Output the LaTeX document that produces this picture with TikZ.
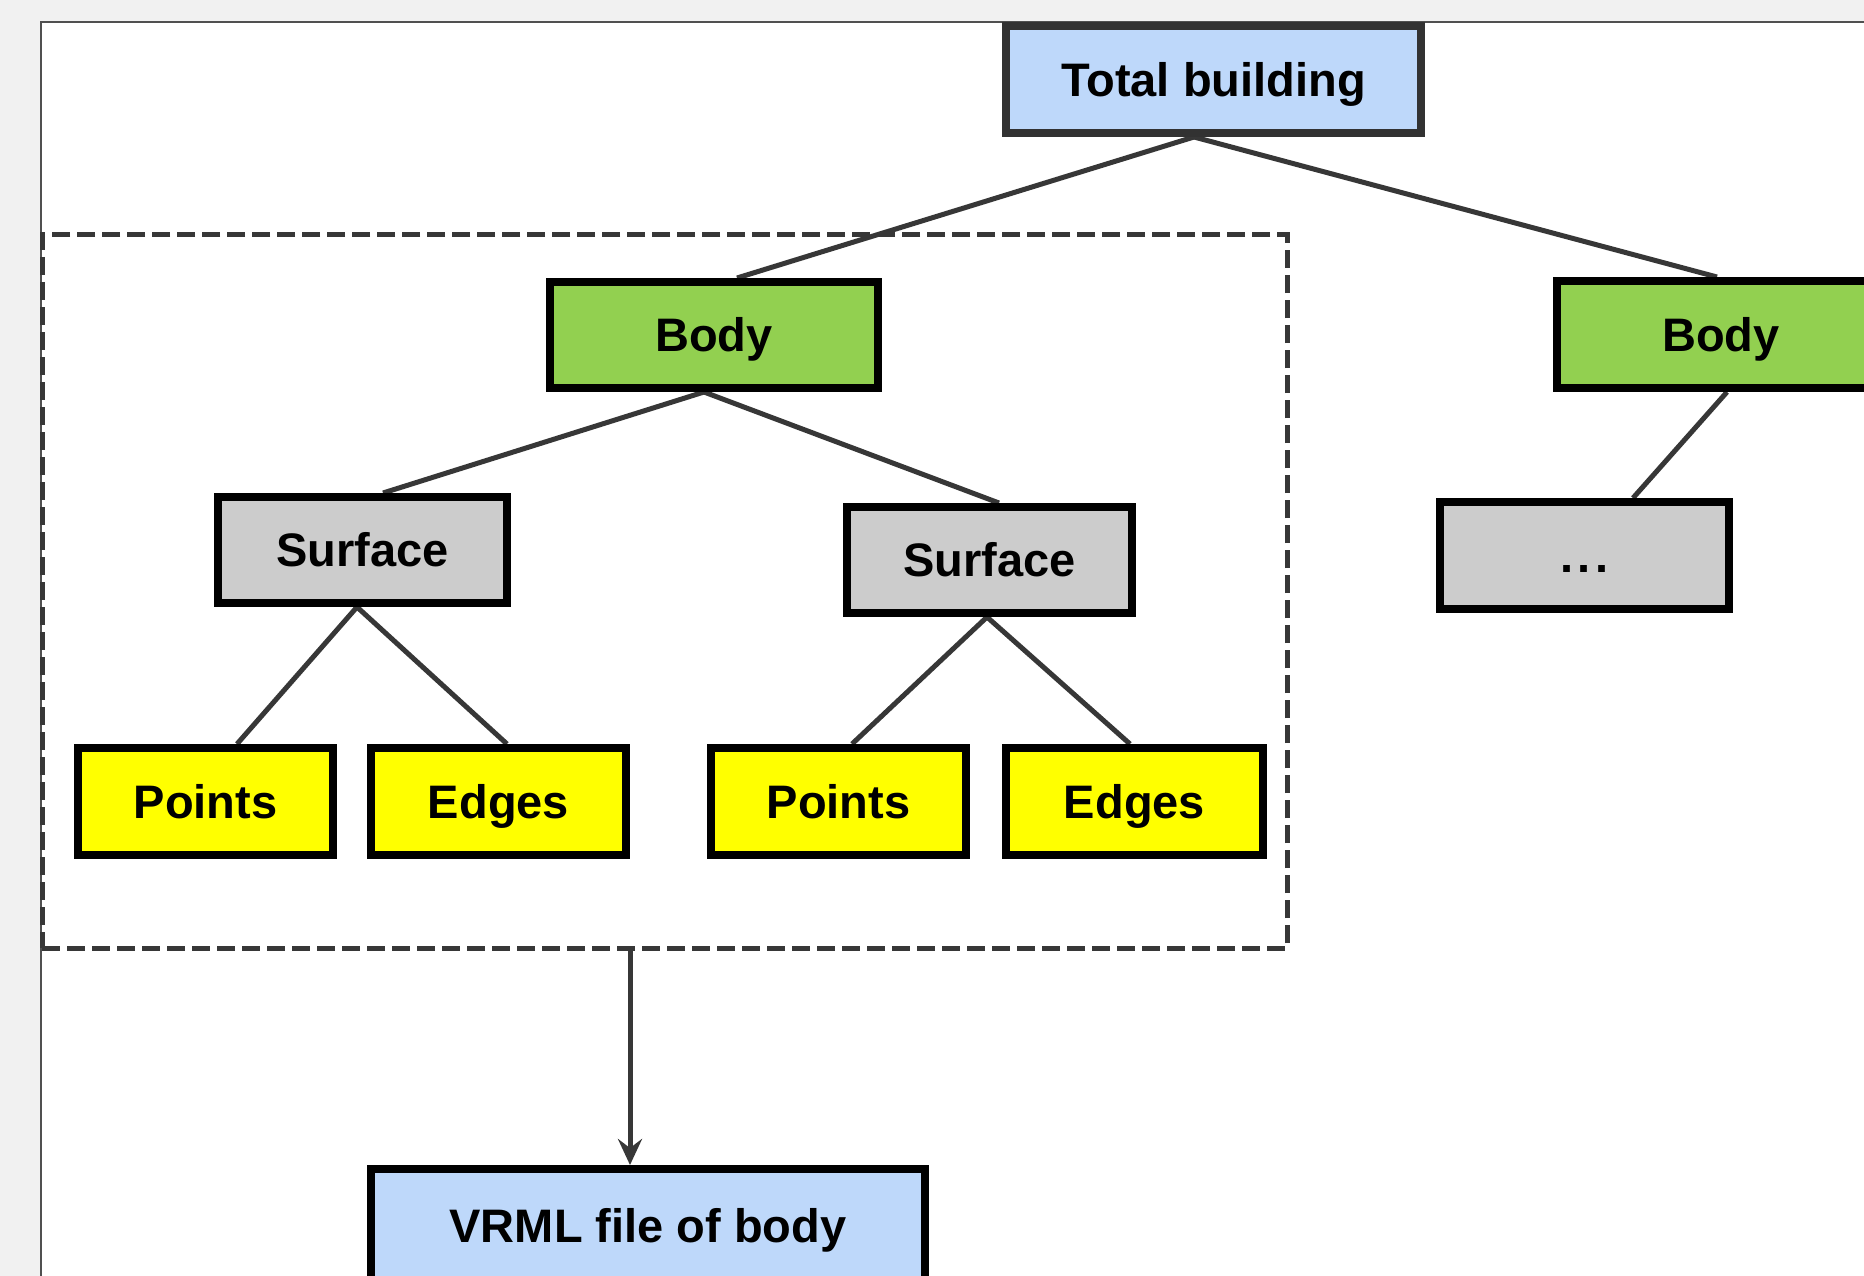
\documentclass[tikz,border=0pt]{standalone}
\usepackage{fontspec}
\setmainfont{Liberation Sans}
\usetikzlibrary{arrows.meta,backgrounds}
\definecolor{bgc}{RGB}{241,241,241}
\definecolor{framec}{RGB}{80,80,80}
\definecolor{lineg}{RGB}{55,55,55}
\definecolor{tbc}{RGB}{50,50,50}
\definecolor{lblue}{RGB}{190,216,250}
\definecolor{lgreen}{RGB}{146,208,80}
\definecolor{grayf}{RGB}{204,204,204}
\definecolor{yel}{RGB}{255,255,0}
\begin{document}
\begin{tikzpicture}[x=1pt,y=-1pt,
  box/.style={draw=black,line width=8pt,inner sep=0pt,text height=33.7pt,text depth=0pt,
    font=\fontsize{47}{56}\selectfont\bfseries},
  conn/.style={draw=lineg,line width=5pt},
  grpbox/.style={draw=lineg,line width=5pt,dash pattern=on 18pt off 7pt,inner sep=0pt}]
\useasboundingbox (0,0) rectangle (1864,1276);
\begin{pgfonlayer}{background}
\fill[bgc] (0,0) rectangle (1864,1276);
\fill[white] (41,22) rectangle (1864,1276);
\draw[framec,line width=2pt] (41,1276) -- (41,22) -- (1864,22);
\end{pgfonlayer}
\clip (0,0) rectangle (1864,1276);
% dashed group
\node[grpbox,minimum width=1245pt,minimum height=713pt] (grp) at (664.5,591.5) {};
% boxes
\node[box,fill=lblue,draw=tbc,minimum width=415pt,minimum height=107pt] (tb) at (1213.5,79.5) {Total building};
\node[box,fill=lgreen,minimum width=328pt,minimum height=106pt] (bodyL) at (714,335) {Body};
\node[box,fill=lgreen,minimum width=328pt,minimum height=107pt] (bodyR) at (1721,334.5) {Body};
\node[box,fill=grayf,minimum width=289pt,minimum height=106pt] (surfL) at (362.5,550) {Surface};
\node[box,fill=grayf,minimum width=285pt,minimum height=106pt] (surfR) at (989.5,560) {Surface};
\node[box,fill=grayf,minimum width=289pt,minimum height=107pt] (dots) at (1584.5,555.5) {.\kern4pt.\kern4pt.};
\node[box,fill=yel,minimum width=255pt,minimum height=107pt] (pts1) at (205.5,801.5) {Points};
\node[box,fill=yel,minimum width=255pt,minimum height=107pt] (edg1) at (498.5,801.5) {Edges};
\node[box,fill=yel,minimum width=255pt,minimum height=107pt] (pts2) at (838.5,801.5) {Points};
\node[box,fill=yel,minimum width=257pt,minimum height=107pt] (edg2) at (1134.5,801.5) {Edges};
\node[box,fill=lblue,minimum width=554pt,minimum height=114pt] (vrml) at (648,1226) {VRML file of body};
% connectors
\begin{pgfonlayer}{background}
\draw[conn] ([xshift=-19.5pt]tb.south) -- ([xshift=23pt]bodyL.north);
\draw[conn] ([xshift=-19.5pt]tb.south) -- ([xshift=-4pt]bodyR.north);
\draw[conn] ([xshift=-10pt]bodyL.south) -- ([xshift=20.5pt]surfL.north);
\draw[conn] ([xshift=-10pt]bodyL.south) -- ([xshift=9.5pt]surfR.north);
\draw[conn] ([xshift=6pt]bodyR.south) -- ([xshift=48.5pt]dots.north);
\draw[conn] ([xshift=-5.5pt]surfL.south) -- ([xshift=31.5pt]pts1.north);
\draw[conn] ([xshift=-5.5pt]surfL.south) -- ([xshift=8.5pt]edg1.north);
\draw[conn] ([xshift=-2.5pt]surfR.south) -- ([xshift=13.5pt]pts2.north);
\draw[conn] ([xshift=-2.5pt]surfR.south) -- ([xshift=-4.5pt]edg2.north);
\end{pgfonlayer}
\draw[conn,-{Stealth[length=26pt,width=24pt,inset=9pt]}] ([xshift=-34.5pt]grp.south) -- ([xshift=-18pt]vrml.north);
\end{tikzpicture}
\end{document}
